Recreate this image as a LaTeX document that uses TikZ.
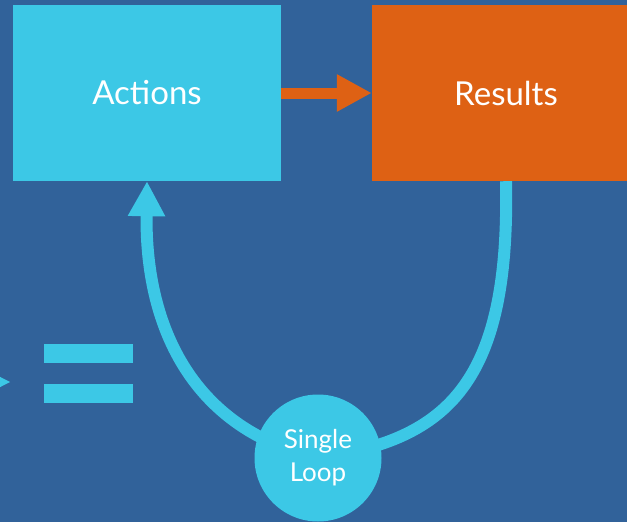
\documentclass[tikz,border=0pt]{standalone}
\usepackage{fontspec}
\setmainfont{Lato}
\usepackage{tikz}
\usetikzlibrary{arrows.meta}
\definecolor{bgblue}{HTML}{31629A}
\definecolor{loopcyan}{HTML}{3CC8E6}
\definecolor{resorange}{HTML}{DE6114}
\tikzset{
	% Two box styles: cyan and orange
	cyan box/.style={rectangle,fill=loopcyan,minimum width=268,minimum height=176,inner sep=0,text=white,font=\fontsize{33}{38}\selectfont},
	orange box/.style={cyan box,fill=resorange},
	loop node/.style={circle,fill=loopcyan,minimum size=127,inner sep=0,text=white,align=center,font=\fontsize{26}{33}\selectfont}
}
\begin{document}
\begin{tikzpicture}[x=1pt,y=-1pt]
	% background and page size
	\fill[bgblue](0,0)rectangle(627,522);
	\clip(0,0)rectangle(627,522);
	
	\node(actions)[cyan box]at(147,93){Actions};
	\node(results)[orange box]at(506,93){Results};
	\draw[resorange,line width=11,-{Triangle[length=35,width=35]}](actions.east) -- (results.west);
	
	% the loop back from results to actions
	\coordinate(loopc)at(318,458);
	\draw[loopcyan,line width=12](results.south) .. controls (510,380) and (450,440) .. (loopc);
	\draw[loopcyan,line width=12,-{Triangle[length=35,width=35]}](loopc) .. controls (195,430) and (145,330) .. (actions.south);
	\node(loop)[loop node]at(loopc){Single\\Loop};
	
	% equals sign and cut arrow tip at the left
	\fill[loopcyan](44,344)rectangle(133,363);
	\fill[loopcyan](44,384)rectangle(133,403);
	\fill[loopcyan](-25,364) -- (10,382) -- (-25,400) -- cycle;
\end{tikzpicture}
\end{document}
